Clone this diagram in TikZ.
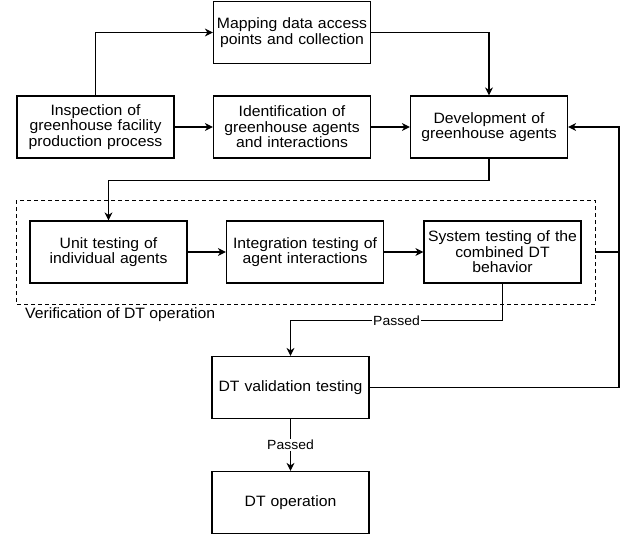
\documentclass[tikz,border=0pt]{standalone}
\usepackage{fontspec}
\setmainfont{Liberation Sans}[FakeStretch=1.05]
\usetikzlibrary{arrows.meta}
\begin{document}
\begin{tikzpicture}[x=1pt,y=-1pt,
  box/.style={draw, line width=1.2pt, inner sep=0pt, minimum width=157pt, minimum height=62pt,
    align=center, text width=154pt, font=\fontsize{15}{15.6}\selectfont},
  conn/.style={line width=1.2pt},
  arr/.style={conn, -{Stealth[length=8pt,width=8pt,inset=2.5pt]}},
  lbl/.style={fill=white, inner sep=1pt, font=\fontsize{13.3}{14}\selectfont}]
\useasboundingbox (0,0) rectangle (624,535);
\node[box] (map) at (292,32.5) {Mapping data access\\points and collection};
\node[box] (insp) at (95.5,127) {Inspection of\\greenhouse facility\\production process};
\node[box] (ident) at (292,127) {Identification of\\greenhouse agents\\and interactions};
\node[box] (dev) at (489,127) {Development of\\greenhouse agents};
\draw[conn, dashed, dash pattern=on 4pt off 3pt, line width=1pt] (16,200) rectangle (595,304);
\coordinate (grpE) at (595,252);
\node[box] (unit) at (108.5,252) {Unit testing of\\individual agents};
\node[box] (integ) at (305,252) {Integration testing of\\agent interactions};
\node[box] (sys) at (502.5,252) {System testing of the\\combined DT\\behavior};
\node[anchor=west, inner sep=0pt, font=\fontsize{15}{15.6}\selectfont] (verif) at (25,315) {Verification of DT operation};
\node[box] (val) at (290.5,387.5) {DT validation testing};
\node[box] (op) at (290.5,502.5) {DT operation};
\coordinate (fbB) at (619,387.5);
\coordinate (fbM) at (619,252);
\draw[arr] (insp.north) |- (map.west);
\draw[arr] (map.east) -| (dev.north);
\draw[arr] (insp.east) -- (ident.west);
\draw[arr] (ident.east) -- (dev.west);
\draw[arr] (dev.south) -- ++(0,22) -| (unit.north);
\draw[arr] (unit.east) -- (integ.west);
\draw[arr] (integ.east) -- (sys.west);
\draw[arr] (sys.south) -- ++(0,37) -| node[lbl, pos=0.25] {Passed} (val.north);
\draw[arr] (val.south) -- node[lbl] {Passed} (op.north);
\draw[arr] (val.east) -- (fbB) |- (dev.east);
\draw[conn] (grpE) -- (fbM);
\end{tikzpicture}
\end{document}
